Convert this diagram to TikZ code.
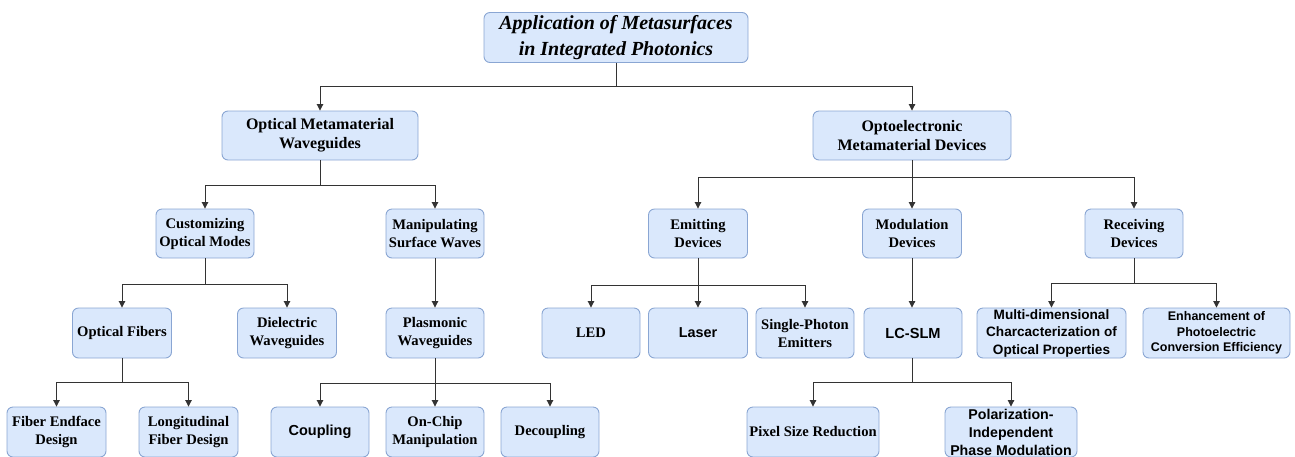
\documentclass[tikz,border=0pt]{standalone}
\usepackage{fontspec}
\setmainfont{Liberation Serif}
\setsansfont{Liberation Sans}
\usetikzlibrary{arrows.meta}
\definecolor{boxfill}{HTML}{DAE8FC}
\definecolor{boxline}{HTML}{8AA6D3}
\definecolor{conn}{HTML}{333333}
\begin{document}
\begin{tikzpicture}[x=1pt,y=-1pt,
  box/.style={draw=boxline,fill=boxfill,rounded corners=6pt,line width=0.9pt,
    align=center,inner sep=0pt,minimum height=49pt,text=black},
  tbox/.style={box,minimum height=50pt,font=\fontsize{20}{25.5}\selectfont\bfseries\itshape},
  lone/.style={box,font=\fontsize{16}{19.3}\selectfont\bfseries},
  ser/.style={box,font=\fontsize{14.6}{18}\selectfont\bfseries},
  san/.style={box,font=\fontsize{14.5}{18}\selectfont\sffamily\bfseries},
  arr/.style={draw=conn,line width=0.9pt,-{Triangle[length=6.5pt,width=6.5pt]}},
  ln/.style={draw=conn,line width=0.9pt}]
\useasboundingbox (0,0) rectangle (1295,456);
% level 0
\node[tbox,minimum width=264pt] (title) at (616,37.5) {Application of Metasurfaces\\in Integrated Photonics};
% level 1
\node[lone,minimum width=196pt] (omw) at (320,135.5) {Optical Metamaterial\\Waveguides};
\node[lone,minimum width=198pt] (omd) at (912,135.5) {Optoelectronic\\Metamaterial Devices};
% level 2
\node[ser,minimum width=98pt] (cust) at (205,233.5) {Customizing\\Optical Modes};
\node[ser,minimum width=98pt] (manip) at (435,233.5) {Manipulating\\Surface Waves};
\node[ser,minimum width=99pt] (emit) at (698,233.5) {Emitting\\Devices};
\node[ser,minimum width=99pt] (modu) at (912,233.5) {Modulation\\Devices};
\node[ser,minimum width=98pt] (recv) at (1134,233.5) {Receiving\\Devices};
% level 3
\node[ser,minimum width=99pt,minimum height=50pt] (ofib) at (122,333) {Optical Fibers};
\node[ser,minimum width=99pt,minimum height=50pt] (diel) at (287,333) {Dielectric\\Waveguides};
\node[ser,minimum width=98pt,minimum height=50pt] (plas) at (435,333) {Plasmonic\\Waveguides};
\node[ser,minimum width=98pt,minimum height=50pt] (led) at (591,333) {LED};
\node[san,minimum width=99pt,minimum height=50pt,font=\fontsize{14.4}{18}\selectfont\sffamily\bfseries] (laser) at (698,333) {Laser};
\node[ser,minimum width=98pt,minimum height=50pt] (sph) at (805,333) {Single-Photon\\Emitters};
\node[san,minimum width=98pt,minimum height=50pt,font=\fontsize{14.6}{18}\selectfont\sffamily\bfseries] (lcslm) at (913,333) {LC-SLM};
\node[san,minimum width=149pt,minimum height=50pt,font=\fontsize{13.6}{17.5}\selectfont\sffamily\bfseries] (multi) at (1051.5,333) {Multi-dimensional\\Charcacterization of\\Optical Properties};
\node[san,minimum width=147pt,minimum height=50pt,font=\fontsize{12.5}{15.5}\selectfont\sffamily\bfseries] (enh) at (1216.5,333) {Enhancement of\\Photoelectric\\Conversion Efficiency};
% level 4
\node[ser,minimum width=99pt,minimum height=50pt] (fend) at (56.5,432) {Fiber Endface\\Design};
\node[ser,minimum width=99pt,minimum height=50pt] (lfd) at (188.5,432) {Longitudinal\\Fiber Design};
\node[san,minimum width=98pt,minimum height=50pt] (coup) at (320,432) {Coupling};
\node[ser,minimum width=98pt,minimum height=50pt] (onchip) at (435,432) {On-Chip\\Manipulation};
\node[ser,minimum width=98pt,minimum height=50pt] (decoup) at (550,432) {Decoupling};
\node[ser,minimum width=132pt,minimum height=50pt] (pix) at (813,432) {Pixel Size Reduction};
\node[san,minimum width=132pt,minimum height=50pt,font=\fontsize{14.2}{18}\selectfont\sffamily\bfseries] (pol) at (1011,432) {Polarization-\\Independent\\Phase Modulation};
% junctions
\coordinate (j0) at (616,86);
\coordinate (j1) at (320,185);
\coordinate (j2) at (912,177);
\coordinate (j3) at (205,284);
\coordinate (j4) at (698,285);
\coordinate (j5) at (1134,283);
\coordinate (j6) at (122,382);
\coordinate (j7) at (435,383);
\coordinate (j8) at (912,382);
% connectors
\draw[ln] (title.south) -- (j0);
\draw[arr] (j0) -| (omw.north);
\draw[arr] (j0) -| (omd.north);
\draw[ln] (omw.south) -- (j1);
\draw[arr] (j1) -| (cust.north);
\draw[arr] (j1) -| (manip.north);
\draw[ln] (omd.south) -- (j2);
\draw[arr] (j2) -| (emit.north);
\draw[arr] (j2) -- (modu.north);
\draw[arr] (j2) -| (recv.north);
\draw[ln] (cust.south) -- (j3);
\draw[arr] (j3) -| (ofib.north);
\draw[arr] (j3) -| (diel.north);
\draw[arr] (manip.south) -- (plas.north);
\draw[ln] (emit.south) -- (j4);
\draw[arr] (j4) -| (led.north);
\draw[arr] (j4) -- (laser.north);
\draw[arr] (j4) -| (sph.north);
\draw[arr] (modu.south) -- (modu.south |- lcslm.north);
\draw[ln] (recv.south) -- (j5);
\draw[arr] (j5) -| (multi.north);
\draw[arr] (j5) -| (enh.north);
\draw[ln] (ofib.south) -- (j6);
\draw[arr] (j6) -| (fend.north);
\draw[arr] (j6) -| (lfd.north);
\draw[ln] (plas.south) -- (j7);
\draw[arr] (j7) -| (coup.north);
\draw[arr] (j7) -- (onchip.north);
\draw[arr] (j7) -| (decoup.north);
\draw[ln] (lcslm.south -| j8) -- (j8);
\draw[arr] (j8) -| (pix.north);
\draw[arr] (j8) -| (pol.north);
\end{tikzpicture}
\end{document}
